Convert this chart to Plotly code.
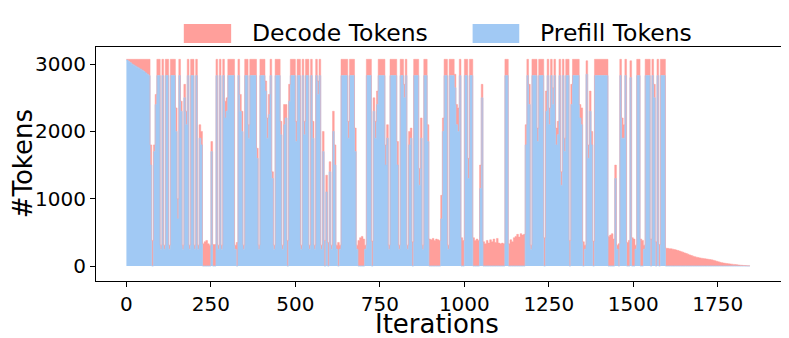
"""Prefill / decode token mix per iteration (stacked area)"""

import plotly.graph_objects as go

# Values, one every 5 iterations (0, 5, 10, ..., 1845)
ITER_STEP = 5

prefill_tokens = [
    3060, 3040, 3020, 3000, 2985, 2970, 2955, 2940, 2925, 2910,
    2890, 2870, 2850, 2830, 1500, 0, 1700, 2400, 2830, 2830,
    250, 2830, 250, 2830, 2830, 250, 2830, 2830, 2830, 2000,
    700, 2830, 2300, 250, 2500, 2100, 2830, 250, 2830, 2830,
    250, 2830, 250, 1900, 1800, 0, 0, 0, 0, 0,
    1700, 0, 0, 2830, 250, 2830, 250, 2830, 2200, 2300,
    2830, 2830, 2830, 2830, 250, 0, 2830, 2300, 2000, 250,
    2830, 2830, 1900, 2830, 2830, 2830, 2830, 1600, 250, 2830,
    2830, 2830, 2600, 1900, 2250, 2830, 1300, 250, 2830, 2830,
    2830, 1950, 250, 2100, 2200, 0, 2450, 2830, 2830, 2830,
    1850, 2830, 2830, 250, 2830, 1950, 2830, 2830, 250, 2830,
    1900, 250, 2830, 2550, 2830, 250, 1700, 0, 1100, 0,
    1400, 250, 2000, 1500, 250, 0, 250, 2830, 2830, 2830,
    2830, 1900, 2830, 2830, 2830, 1700, 250, 0, 0, 0,
    0, 250, 2830, 2830, 2830, 0, 2300, 1900, 2400, 2830,
    2830, 2830, 2830, 1500, 1900, 250, 2830, 2830, 2830, 2830,
    1500, 250, 2830, 2830, 2500, 2830, 250, 1800, 1900, 0,
    2830, 2830, 2830, 1200, 1900, 250, 2830, 2830, 1850, 0,
    0, 0, 0, 0, 0, 0, 700, 2000, 2830, 2830,
    250, 2830, 2830, 2830, 2650, 2100, 2000, 2830, 0, 0,
    2830, 2830, 1300, 2830, 2830, 0, 0, 0, 0, 1150,
    2500, 0, 0, 0, 0, 0, 0, 0, 0, 0,
    0, 0, 0, 0, 2830, 2830, 0, 0, 0, 0,
    0, 0, 0, 0, 0, 0, 1800, 2830, 2400, 250,
    2830, 2830, 2830, 1850, 2830, 2830, 2830, 0, 2300, 2830,
    2100, 2830, 2400, 2830, 1800, 1950, 2830, 1200, 2830, 1700,
    2830, 2830, 0, 2400, 2830, 2830, 2830, 2830, 2200, 2100,
    0, 250, 2850, 1600, 2300, 1800, 0, 2830, 2830, 2830,
    2830, 2830, 2830, 2830, 2830, 0, 0, 0, 0, 1300,
    250, 0, 2830, 1900, 1900, 2830, 0, 0, 2800, 0,
    0, 250, 2830, 2830, 0, 0, 250, 2830, 2830, 2830,
    0, 2830, 2500, 0, 2830, 0, 2830, 2830, 2830, 0,
    0, 0, 0, 0, 0, 0, 0, 0, 0, 0,
    0, 0, 0, 0, 0, 0, 0, 0, 0, 0,
    0, 0, 0, 0, 0, 0, 0, 0, 0, 0,
    0, 0, 0, 0, 0, 0, 0, 0, 0, 0,
    0, 0, 0, 0, 0, 0, 0, 0, 0, 0,
]

decode_tokens = [
    12, 32, 52, 72, 87, 102, 117, 132, 147, 162,
    182, 202, 222, 242, 300, 380, 100, 150, 242, 242,
    60, 242, 60, 242, 242, 60, 242, 242, 242, 350,
    300, 242, 150, 60, 200, 200, 242, 60, 242, 242,
    60, 242, 60, 200, 200, 330, 360, 380, 330, 310,
    150, 320, 320, 242, 60, 242, 60, 242, 250, 200,
    242, 242, 242, 242, 60, 350, 242, 250, 300, 60,
    242, 242, 200, 242, 242, 242, 242, 150, 60, 242,
    242, 242, 150, 300, 300, 242, 100, 60, 242, 242,
    242, 200, 60, 300, 200, 380, 250, 242, 242, 242,
    300, 242, 242, 60, 242, 200, 242, 242, 60, 242,
    250, 60, 242, 200, 242, 60, 300, 380, 250, 350,
    150, 60, 300, 300, 60, 350, 60, 242, 242, 242,
    242, 250, 242, 242, 242, 350, 60, 380, 420, 440,
    400, 60, 242, 242, 242, 370, 200, 250, 200, 242,
    242, 242, 242, 300, 200, 60, 242, 242, 242, 242,
    350, 60, 242, 242, 200, 242, 60, 200, 150, 360,
    242, 242, 242, 250, 300, 60, 242, 242, 250, 400,
    390, 410, 380, 400, 390, 380, 350, 200, 242, 242,
    60, 242, 242, 242, 200, 300, 350, 242, 420, 380,
    242, 242, 300, 242, 242, 420, 380, 400, 380, 350,
    200, 360, 330, 380, 340, 390, 360, 400, 350, 410,
    340, 330, 340, 330, 242, 242, 330, 390, 360, 420,
    440, 470, 430, 480, 460, 470, 300, 242, 300, 60,
    242, 242, 242, 200, 242, 242, 242, 420, 300, 242,
    250, 242, 250, 242, 250, 200, 242, 200, 242, 200,
    242, 242, 380, 300, 242, 242, 242, 242, 200, 250,
    360, 60, 200, 200, 300, 200, 370, 242, 242, 242,
    242, 242, 242, 242, 242, 440, 460, 480, 400, 200,
    60, 330, 242, 300, 200, 242, 350, 380, 250, 420,
    400, 60, 242, 242, 400, 380, 60, 242, 242, 242,
    400, 242, 200, 360, 242, 320, 242, 242, 242, 265,
    262, 258, 255, 250, 244, 238, 230, 222, 213, 204,
    195, 185, 175, 165, 155, 146, 138, 131, 125, 120,
    116, 112, 108, 104, 100, 96, 91, 85, 78, 70,
    62, 55, 49, 44, 40, 36, 33, 30, 27, 24,
    21, 18, 15, 12, 10, 8, 6, 4, 3, 2,
]

iterations = list(range(0, ITER_STEP * len(decode_tokens), ITER_STEP))

x_ticks = [0, 250, 500, 750, 1000, 1250, 1500, 1750]
y_ticks = [0, 1000, 2000, 3000]

series_names = ["Decode Tokens", "Prefill Tokens"]

RED = "#FF9F9B"
BLUE = "#A1C9F4"
FONT = "DejaVu Sans"

fig = go.Figure()

# prefill at the bottom, decode stacked on top (same as stackplot)
fig.add_trace(go.Scatter(
    x=iterations, y=prefill_tokens, name=series_names[1],
    mode="lines", stackgroup="tokens",
    line=dict(color=BLUE, width=0.8, shape="hv"), fillcolor=BLUE,
    showlegend=False, hoverinfo="skip",
))
fig.add_trace(go.Scatter(
    x=iterations, y=decode_tokens, name=series_names[0],
    mode="lines", stackgroup="tokens",
    line=dict(color=RED, width=0.5, shape="hv"), fillcolor=RED,
    showlegend=False, hoverinfo="skip",
))

# legend drawn by hand to get matplotlib-sized patches
for (x0, x1, tx), color, label in zip(
    [(0.128, 0.197, 0.225), (0.549, 0.617, 0.645)], [RED, BLUE], series_names
):
    fig.add_shape(type="rect", xref="paper", yref="paper",
                  x0=x0, x1=x1, y0=1.017, y1=1.098,
                  fillcolor=color, line=dict(width=0))
    fig.add_annotation(text=label, xref="paper", yref="paper",
                       x=tx, y=1.058, xanchor="left", yanchor="middle",
                       showarrow=False, font=dict(family=FONT, size=23.5, color="black"))

# axis titles as annotations so they sit where matplotlib put them
fig.add_annotation(text="Iterations", xref="paper", yref="paper",
                   x=0.497, y=-0.185, xanchor="center", yanchor="middle",
                   showarrow=False, font=dict(family=FONT, size=26, color="black"))
fig.add_annotation(text="#Tokens", xref="paper", yref="paper",
                   x=-0.106, y=0.5, xanchor="center", yanchor="middle", textangle=-90,
                   showarrow=False, font=dict(family=FONT, size=26, color="black"))

fig.update_xaxes(
    range=[-90, 1940], tickvals=x_ticks, ticks="outside", ticklen=5,
    tickcolor="black", showgrid=False, zeroline=False, automargin=False,
    showline=True, mirror=True, linecolor="black", linewidth=1,
    tickfont=dict(family=FONT, size=20, color="black"),
)
fig.update_yaxes(
    range=[-223, 3255], tickvals=y_ticks, ticks="outside", ticklen=5,
    tickcolor="black", showgrid=False, zeroline=False, automargin=False,
    showline=True, mirror=True, linecolor="black", linewidth=1,
    tickfont=dict(family=FONT, size=20, color="black"),
)

# the page body adds an 8px offset, so the figure is 8px smaller on each side
fig.update_layout(
    width=781, height=330,
    margin=dict(l=88, r=7, t=39, b=57),
    plot_bgcolor="white", paper_bgcolor="white",
    showlegend=False,
)

fig.write_html("out.html")
